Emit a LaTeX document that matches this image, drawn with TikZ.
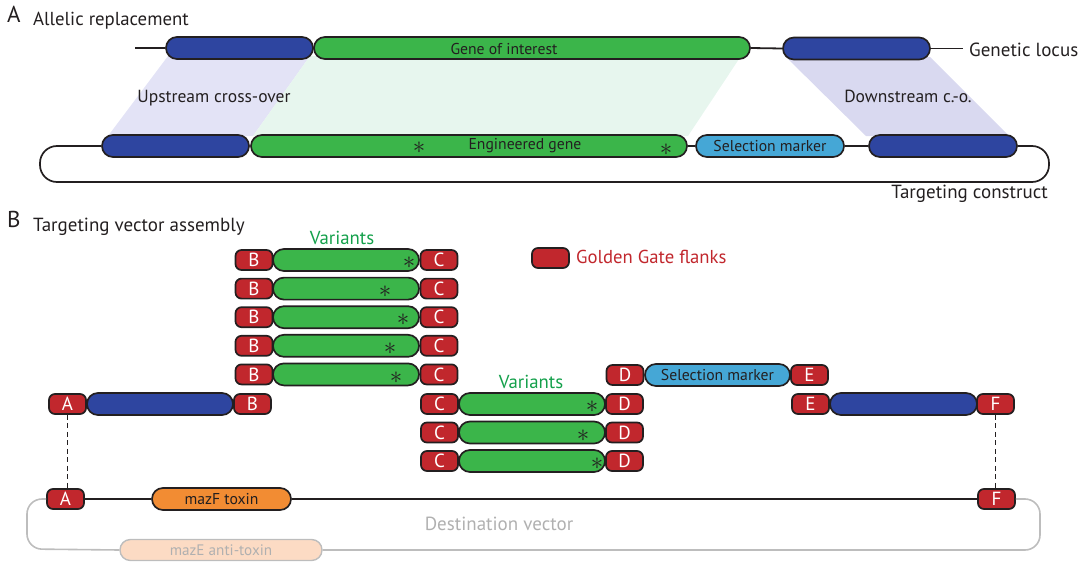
\documentclass[tikz,border=0pt]{standalone}
\usepackage{fontspec}
\setmainfont{PT Sans}
\newcommand\fsz[1]{\fontsize{#1}{#1}\selectfont}
\definecolor{ink}{HTML}{231F20}
\definecolor{dblue}{HTML}{2E45A0}
\definecolor{gfill}{HTML}{3BB54A}
\definecolor{ggred}{HTML}{C1272D}
\definecolor{lblue}{HTML}{45A7D6}
\definecolor{orng}{HTML}{F28C33}
\definecolor{peach}{HTML}{FCDBC4}
\definecolor{upshade}{HTML}{E3E3F6}
\definecolor{dnshade}{HTML}{D9D9F0}
\definecolor{gshade}{HTML}{E7F6EE}
\definecolor{vgreen}{HTML}{14A04B}
\definecolor{greyline}{HTML}{BDBDBD}
\definecolor{greytext}{HTML}{B0B0B0}
\tikzset{
  bar/.style={draw=ink, line width=1.7pt, inner sep=0pt, minimum height=22pt, rounded corners=10.9pt, text=ink, font=\fsz{15.7}},
  bluebar/.style={bar, fill=dblue},
  greenbar/.style={bar, fill=gfill},
  selbar/.style={bar, fill=lblue},
  flank/.style={draw=ink, fill=ggred, line width=1.7pt, inner sep=0pt, minimum width=37pt, minimum height=20pt, rounded corners=6pt, text=white, font=\fsz{19}},
  star/.style={inner sep=0pt, text=ink, font=\fsz{25}},
  locus/.style={draw=ink, line width=1.8pt},
  lbl/.style={inner sep=0pt, text=ink},
  dashv/.style={draw=ink, line width=1.8pt, dash pattern=on 5pt off 3.5pt},
}
\begin{document}
\begin{tikzpicture}[x=1pt,y=-1pt]
\useasboundingbox (0,0) rectangle (1088,562);
% ---------- Panel A ----------
\node[lbl, anchor=base west, font=\fsz{23}] (labA) at (7,23) {A};
\node[lbl, anchor=base west, font=\fsz{18.8}] (titA) at (33,25) {Allelic replacement};
% shading
\fill[upshade] (168,56) -- (310,56) -- (253,136) -- (108,136) -- cycle;
\fill[gshade] (310,56) -- (741,56) -- (688,136) -- (253,136) -- cycle;
\fill[dnshade] (786,57) -- (930,57) -- (1009,136) -- (866,136) -- cycle;
\node[lbl, font=\fsz{17.5}] (upco) at (214,98) {Upstream cross-over};
\node[lbl, font=\fsz{17.5}] (dnco) at (908,96) {Downstream c.-o.};
% genetic locus
\node[bluebar, minimum width=147pt] (ub1) at (239.5,48) {};
\node[greenbar, minimum width=436pt] (goi) at (532,48) {};
\node[lbl, font=\fsz{15.7}] (goit) at (504,49) {Gene of interest};
\node[bluebar, minimum width=147pt] (db1) at (856.5,48.5) {};
\coordinate (locL) at (135,48);
\coordinate (locR) at (963,48.5);
\draw[locus] (locL) -- (ub1.west);
\draw[locus] (goi.east) -- (db1.west);
\draw[locus] (db1.east) -- (locR);
\node[lbl, anchor=west, font=\fsz{19}] (gloc) at (969,50) {Genetic locus};
% targeting construct
\node[bluebar, minimum width=147pt] (cb1) at (175.5,146) {};
\node[greenbar, minimum width=436pt] (eng) at (469,146) {};
\node[lbl, font=\fsz{15.7}] (engt) at (525,146) {Engineered gene};
\node[selbar, minimum width=148pt] (sel) at (770,146) {Selection marker};
\node[bluebar, minimum width=148pt] (cb2) at (943,146) {};
\node[star] (s1) at (419,148) {$\ast$};
\node[star] (s2) at (666,150) {$\ast$};
\draw[locus] (eng.east) -- (sel.west);
\draw[locus] (sel.east) -- (cb2.west);
\draw[draw=ink, line width=1.7pt, rounded corners=17pt] (cb2.east) -| (1049,182) -| (40,146) -- (cb1.west);
\node[lbl, anchor=east, font=\fsz{19}] (tcon) at (1048,194) {Targeting construct};
% ---------- Panel B ----------
\node[lbl, anchor=base west, font=\fsz{23}] (labB) at (7,227) {B};
\node[lbl, anchor=base west, font=\fsz{19}] (titB) at (33,231) {Targeting vector assembly};
\node[lbl, text=vgreen, font=\fsz{18.8}] (var1) at (342,238) {Variants};
% top variants
\foreach \i/\sx in {0/409,1/385,2/403,3/390,4/396}{
  \pgfmathsetmacro{\yy}{260+28.6*\i}
  \node[flank] (vB\i) at (254,\yy) {B};
  \node[greenbar, minimum width=146pt] (vG\i) at (346,\yy) {};
  \node[flank] (vC\i) at (439,\yy) {C};
  \node[star] (vS\i) at (\sx,\yy+3) {$\ast$};
}
% legend
\node[flank] (leg) at (550.5,258) {};
\node[lbl, anchor=west, text=ggred, font=\fsz{18.7}] (legt) at (576,257) {Golden Gate flanks};
% middle variants
\node[lbl, text=vgreen, font=\fsz{18.8}] (var2) at (531,382) {Variants};
\foreach \i/\sx/\yy in {0/592/404,1/583/432.5,2/597/461}{
  \node[flank] (mC\i) at (439.5,\yy) {C};
  \node[greenbar, minimum width=146pt] (mG\i) at (532,\yy) {};
  \node[flank] (mD\i) at (624.5,\yy) {D};
  \node[star] (mS\i) at (\sx,\yy+3) {$\ast$};
}
% selection marker part
\node[flank] (sD) at (625,375) {D};
\node[selbar, minimum width=145pt] (sSel) at (717.5,375) {Selection marker};
\node[flank] (sE) at (809.5,375) {E};
% downstream part
\node[flank] (rE) at (810.5,404) {E};
\node[bluebar, minimum width=147pt] (rBl) at (903.5,404) {};
\node[flank] (rF) at (995.5,404) {F};
% upstream part
\node[flank] (lA) at (67.5,404) {A};
\node[bluebar, minimum width=146pt] (lBl) at (160,404) {};
\node[flank] (lB) at (252.5,404) {B};
% destination vector
\node[draw=greyline, fill=peach, line width=1.4pt, inner sep=0pt, minimum width=202pt, minimum height=21pt, rounded corners=10.4pt, text=greytext, font=\fsz{15.2}] (mazE) at (221,550) {mazE anti-toxin};
\node[flank] (dA) at (65.5,499) {A};
\node[bar, fill=orng, minimum width=139pt] (mazF) at (221.5,499) {mazF toxin};
\node[flank] (dF) at (996.5,499) {F};
\draw[locus] (dA.east) -- (mazF.west);
\draw[locus] (mazF.east) -- (dF.west);
\draw[draw=greyline, line width=1.6pt, rounded corners=15pt] (dA.west) -| (27,549) -- (mazE.west);
\draw[draw=greyline, line width=1.6pt, rounded corners=15pt] (mazE.east) -| (1040,499) -- (dF.east);
\node[lbl, text=greytext, font=\fsz{19}] (dvec) at (499,524) {Destination vector};
\draw[dashv] (lA.south) -- (lA.south |- dA.north);
\draw[dashv] (rF.south) -- (rF.south |- dF.north);
\end{tikzpicture}
\end{document}
